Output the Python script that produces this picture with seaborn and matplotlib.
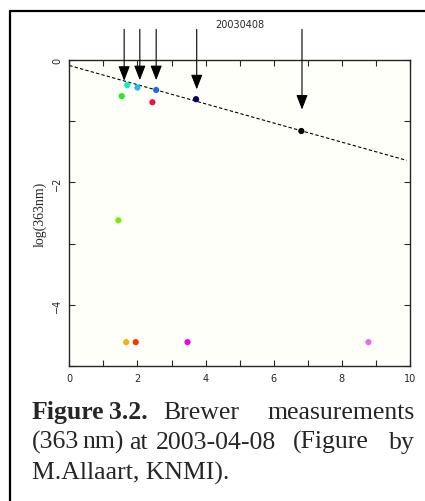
import matplotlib
matplotlib.use("Agg")
import matplotlib.pyplot as plt
import seaborn as sns
import pandas as pd
from matplotlib.lines import Line2D

# measured points (airmass, log intensity)
point_x = [1.54, 1.70, 2.00, 2.44, 2.55, 3.72, 6.81, 1.44, 1.67, 1.95, 3.47, 8.78]
point_y = [-0.59, -0.41, -0.45, -0.69, -0.49, -0.64, -1.16, -2.62, -4.61, -4.61, -4.61, -4.61]
point_colors = ["#22ee22", "#11eebb", "#22bbee", "#ee1144", "#2266ee", "#000066",
                "#000000", "#77ee00", "#ffaa00", "#ff3300", "#ee00ee", "#ee66ee"]

# fitted line end points
fit_x = [0.0, 9.9]
fit_y = [-0.09, -1.64]

# arrows: x position and tip height
arrow_x = [1.61, 2.07, 2.55, 3.74, 6.83]
arrow_tip = [-0.34, -0.33, -0.33, -0.48, -0.81]
arrow_top = 0.5

x_ticks = [0, 2, 4, 6, 8, 10]
y_ticks = [0, -2, -4]

sns.set_style("ticks")
plt.rcParams["font.family"] = ["DejaVu Sans"]

fig = plt.figure(figsize=(4.25, 5.02), dpi=100)
ax = fig.add_axes([69.3 / 425, 1 - 367 / 502, (410 - 69.3) / 425, (367 - 61) / 502])
ax.set_facecolor("#fffffa")

df = pd.DataFrame({"x": point_x, "y": point_y, "id": [str(i) for i in range(len(point_x))]})
sns.scatterplot(data=df, x="x", y="y", hue="id", palette=point_colors, legend=False,
                s=20, linewidth=0, ax=ax, zorder=3)
sns.lineplot(x=fit_x, y=fit_y, color="black", lw=0.8, ax=ax, zorder=2)
ax.lines[-1].set_linestyle((0, (3, 2)))

for xa, tip in zip(arrow_x, arrow_tip):
    ax.annotate("", xy=(xa, tip), xytext=(xa, arrow_top), xycoords="data",
                arrowprops=dict(arrowstyle="-|>,head_length=0.9,head_width=0.35",
                                color="black", lw=0.8, shrinkA=0, shrinkB=0),
                annotation_clip=False)

ax.set_xlim(0, 10)
ax.set_ylim(-5, 0)
ax.set_xticks(x_ticks)
ax.set_xticks([1, 3, 5, 7, 9], minor=True)
ax.set_yticks(y_ticks)
ax.set_yticks([-1, -3, -5], minor=True)
ax.set_xticklabels([str(t) for t in x_ticks])
ax.set_yticklabels(["0", "\u22122", "\u22124"], rotation=90, va="center")
ax.tick_params(which="both", direction="in", top=True, right=True, length=4.5,
               width=0.8, labelsize=7, pad=5)
for s in ax.spines.values():
    s.set_linewidth(1.0)

ax.set_xlabel("")
ax.set_ylabel("log(363nm)", family="Liberation Serif", fontsize=10)
ax.yaxis.set_label_coords(-0.065, 0.5)
ax.set_title("20030408", fontsize=7, pad=24)

# frame lines of the page box
fig.add_artist(Line2D([10 / 425, 10 / 425], [0, 1 - 12 / 502], color="black", lw=1.6))
fig.add_artist(Line2D([10 / 425, 1], [1 - 12 / 502, 1 - 12 / 502], color="black", lw=1.6))

# caption (justified by placing words)
cap = dict(family="Liberation Serif", fontsize=18.5, va="baseline", ha="left")
line1 = [("Figure", 32, "bold"), ("3.2.", 109, "bold"), ("Brewer", 163, "normal")]
line2 = [("(363", 32), ("nm)", 82), ("at", 129), ("2003-04-08", 156), ("(Figure", 293), ("by", 384)]
for word, px, wt in line1:
    fig.text(px / 425, 1 - 419 / 502, word, weight=wt, **cap)
fig.text(415 / 425, 1 - 419 / 502, "measurements", **{**cap, "ha": "right"})
for word, px in line2[:-1]:
    fig.text(px / 425, 1 - 449 / 502, word, **cap)
fig.text(415 / 425, 1 - 449 / 502, line2[-1][0], **{**cap, "ha": "right"})
fig.text(32 / 425, 1 - 480 / 502, "M.Allaart, KNMI).", **cap)

fig.savefig("out.png", dpi=100)
